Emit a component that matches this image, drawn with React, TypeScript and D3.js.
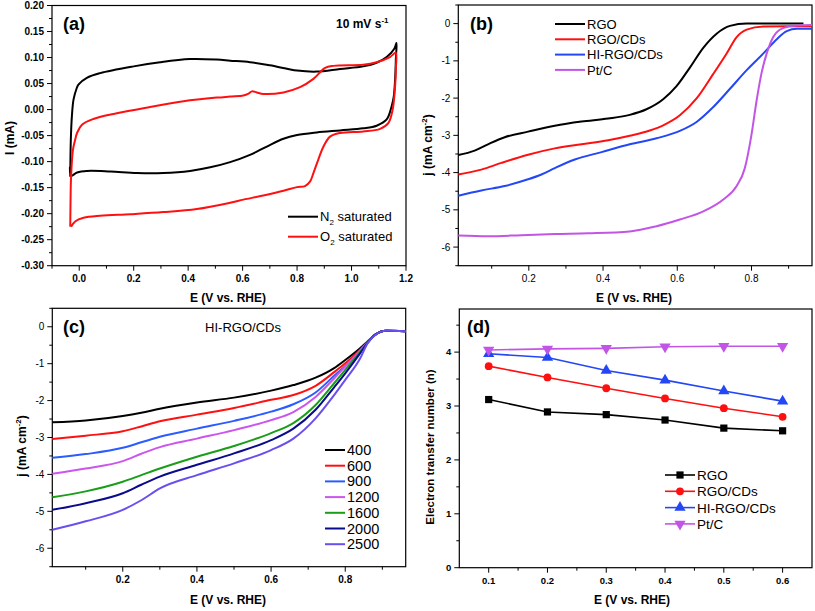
import React from 'react';
import * as d3 from 'd3';

const FONT = 'Arial, "Liberation Sans", Helvetica, sans-serif';

// ---------- Panel (a): CV in N2 / O2 ----------
const n2Potential = [-0.033, -0.031, -0.027, -0.021, -0.01, -0.003, 0.028, 0.077, 0.2, 0.297, 0.407, 0.505, 0.554, 0.627, 0.7, 0.8, 0.872, 0.958, 1.043, 1.092, 1.129, 1.157, 1.165,
  1.163, 1.16, 1.155, 1.147, 1.129, 1.092, 1.043, 0.958, 0.872, 0.8, 0.75, 0.689, 0.627, 0.554, 0.481, 0.407, 0.309, 0.212, 0.114, 0.028, -0.008, -0.03, -0.034];
const n2Current = [-0.129, -0.06, -0.013, 0.019, 0.04, 0.048, 0.061, 0.07, 0.083, 0.091, 0.097, 0.096, 0.094, 0.091, 0.085, 0.075, 0.073, 0.078, 0.083, 0.09, 0.101, 0.117, 0.128,
  0.1, 0.058, 0.025, 0.006, -0.019, -0.031, -0.036, -0.04, -0.044, -0.049, -0.056, -0.071, -0.087, -0.101, -0.111, -0.118, -0.122, -0.122, -0.119, -0.118, -0.121, -0.127, -0.11];
const o2Potential = [-0.033, -0.032, -0.03, -0.023, -0.015, -0.008, 0.01, 0.052, 0.138, 0.26, 0.383, 0.505, 0.554, 0.603, 0.62, 0.634, 0.652, 0.676, 0.75, 0.811, 0.86, 0.903, 0.933, 1.043, 1.092, 1.141, 1.162,
  1.163, 1.16, 1.151, 1.135, 1.105, 1.043, 0.958, 0.921, 0.897, 0.878, 0.86, 0.848, 0.829, 0.8, 0.75, 0.676, 0.603, 0.554, 0.432, 0.309, 0.187, 0.077, 0.016, -0.015, -0.03];
const o2Current = [-0.225, -0.18, -0.129, -0.077, -0.058, -0.045, -0.029, -0.018, -0.007, 0.005, 0.016, 0.023, 0.025, 0.027, 0.03, 0.035, 0.033, 0.03, 0.033, 0.043, 0.059, 0.08, 0.084, 0.086, 0.091, 0.101, 0.109,
  0.08, 0.045, 0.0, -0.026, -0.037, -0.042, -0.045, -0.052, -0.071, -0.096, -0.122, -0.138, -0.147, -0.149, -0.156, -0.165, -0.173, -0.179, -0.191, -0.197, -0.201, -0.204, -0.208, -0.215, -0.225];

// ---------- Panel (b): LSV of catalysts ----------
const rgoV = [0.01, 0.054, 0.09, 0.135, 0.198, 0.27, 0.342, 0.414, 0.472, 0.517, 0.562, 0.598, 0.634, 0.67, 0.706, 0.742, 0.787, 0.85, 0.94];
const rgoJ = [-3.53, -3.41, -3.24, -3.05, -2.9, -2.74, -2.63, -2.55, -2.45, -2.3, -2.03, -1.68, -1.18, -0.65, -0.27, -0.06, 0, 0, 0];
const rgoCdV = [0.01, 0.072, 0.126, 0.198, 0.27, 0.342, 0.414, 0.472, 0.526, 0.562, 0.607, 0.652, 0.697, 0.733, 0.76, 0.787, 0.832, 0.9, 0.963];
const rgoCdJ = [-4.05, -3.92, -3.74, -3.52, -3.35, -3.24, -3.13, -3.01, -2.87, -2.73, -2.46, -2.01, -1.35, -0.8, -0.36, -0.16, -0.08, -0.07, -0.07];
const hiV = [0.01, 0.072, 0.135, 0.198, 0.234, 0.27, 0.324, 0.396, 0.472, 0.544, 0.607, 0.652, 0.697, 0.742, 0.787, 0.832, 0.868, 0.895, 0.922, 0.963];
const hiJ = [-4.62, -4.48, -4.36, -4.18, -4.05, -3.88, -3.65, -3.45, -3.24, -3.08, -2.88, -2.64, -2.24, -1.75, -1.25, -0.8, -0.42, -0.2, -0.14, -0.14];
const ptV = [0.01, 0.09, 0.18, 0.27, 0.36, 0.472, 0.544, 0.607, 0.67, 0.724, 0.76, 0.782, 0.8, 0.814, 0.827, 0.841, 0.859, 0.885, 0.922, 0.963];
const ptJ = [-5.69, -5.71, -5.68, -5.65, -5.63, -5.58, -5.44, -5.26, -5.04, -4.72, -4.36, -3.88, -2.98, -2.05, -1.33, -0.8, -0.35, -0.12, -0.05, -0.04];

// ---------- Panel (c): HI-RGO/CDs at rotation rates ----------
const rpmPotential = [0.01, 0.1, 0.2, 0.25, 0.3, 0.4, 0.5, 0.6, 0.66, 0.72, 0.77, 0.8, 0.84, 0.86, 0.88, 0.91, 0.963];
const rpmLabels = ['400', '600', '900', '1200', '1600', '2000', '2500'];
const j400 = [-2.59, -2.54, -2.42, -2.33, -2.22, -2.05, -1.92, -1.73, -1.58, -1.38, -1.12, -0.9, -0.58, -0.4, -0.22, -0.11, -0.12];
const j600 = [-3.04, -2.95, -2.83, -2.7, -2.56, -2.38, -2.2, -1.98, -1.85, -1.6, -1.23, -0.99, -0.62, -0.42, -0.22, -0.11, -0.12];
const j900 = [-3.55, -3.45, -3.28, -3.13, -2.98, -2.76, -2.55, -2.3, -2.1, -1.78, -1.33, -1.06, -0.64, -0.42, -0.22, -0.11, -0.12];
const j1200 = [-3.98, -3.84, -3.64, -3.44, -3.26, -3.03, -2.8, -2.53, -2.31, -1.9, -1.4, -1.08, -0.65, -0.42, -0.22, -0.11, -0.12];
const j1600 = [-4.62, -4.46, -4.2, -4.02, -3.84, -3.52, -3.23, -2.88, -2.61, -2.12, -1.53, -1.17, -0.68, -0.43, -0.22, -0.11, -0.12];
const j2000 = [-4.96, -4.78, -4.51, -4.28, -4.06, -3.74, -3.43, -3.07, -2.76, -2.25, -1.64, -1.26, -0.72, -0.44, -0.22, -0.11, -0.12];
const j2500 = [-5.5, -5.27, -4.96, -4.7, -4.38, -4.02, -3.7, -3.34, -3.03, -2.48, -1.85, -1.44, -0.86, -0.45, -0.23, -0.11, -0.12];
const rpmColors = ['#000000', '#ff1010', '#2b5cff', '#cc55ee', '#1a9e1a', '#0a0a8c', '#6a4ff0'];

// ---------- Panel (d): electron transfer number ----------
const nPotential = [0.1, 0.2, 0.3, 0.4, 0.5, 0.6];
const nRGO = [3.12, 2.89, 2.84, 2.74, 2.59, 2.54];
const nRGOCD = [3.74, 3.53, 3.33, 3.14, 2.96, 2.8];
const nHI = [3.97, 3.9, 3.66, 3.48, 3.28, 3.09];
const nPt = [4.04, 4.06, 4.07, 4.1, 4.11, 4.11];

const catalystNames = ['RGO', 'RGO/CDs', 'HI-RGO/CDs', 'Pt/C'];
const catalystColors = ['#000000', '#ff1010', '#2447f5', '#c255e6'];

type Rect = { l: number; r: number; t: number; b: number };
const A: Rect = { l: 52, r: 406, t: 5.5, b: 265.7 };
const B: Rect = { l: 458.3, r: 812, t: 5, b: 265.7 };
const C: Rect = { l: 52.3, r: 405.7, t: 308.3, b: 566.7 };
const D: Rect = { l: 459.3, r: 812, t: 309, b: 567.7 };

const range = (a: number, b: number, s: number) => {
  const out: number[] = [];
  for (let i = 0; a + i * s <= b + 1e-9; i++) out.push(+(a + i * s).toFixed(4));
  return out;
};

function Axes({ rect, x, y, xMajor, xMinor, yMajor, yMinor, xFmt, yFmt, xBold, yBold, tickSize }: any) {
  const fs = tickSize || 10;
  return (
    <g>
      {xMajor.map((v: number) => (
        <g key={'xm' + v}>
          <line x1={x(v)} x2={x(v)} y1={rect.b} y2={rect.b + 5} stroke="#000" strokeWidth={1} />
          <text x={x(v)} y={rect.b + 16} textAnchor="middle" fontSize={fs} fontWeight={xBold ? 'bold' : 'normal'} fontFamily={FONT}>{xFmt(v)}</text>
        </g>
      ))}
      {xMinor.map((v: number) => (
        <line key={'xn' + v} x1={x(v)} x2={x(v)} y1={rect.b} y2={rect.b + 3} stroke="#000" strokeWidth={1} />
      ))}
      {yMajor.map((v: number) => (
        <g key={'ym' + v}>
          <line x1={rect.l - 5} x2={rect.l} y1={y(v)} y2={y(v)} stroke="#000" strokeWidth={1} />
          <text x={rect.l - 8} y={y(v)} dy="0.35em" textAnchor="end" fontSize={fs} fontWeight={yBold ? 'bold' : 'normal'} fontFamily={FONT}>{yFmt(v)}</text>
        </g>
      ))}
      {yMinor.map((v: number) => (
        <line key={'yn' + v} x1={rect.l - 3} x2={rect.l} y1={y(v)} y2={y(v)} stroke="#000" strokeWidth={1} />
      ))}
      <rect x={rect.l} y={rect.t} width={rect.r - rect.l} height={rect.b - rect.t} fill="none" stroke="#000" strokeWidth={1.2} />
    </g>
  );
}

const zip = (xs: number[], ys: number[]) => xs.map((v, i) => [v, ys[i]] as [number, number]);

export default function App() {
  const xa = d3.scaleLinear().domain([-0.1, 1.2]).range([A.l, A.r]);
  const ya = d3.scaleLinear().domain([-0.3, 0.2]).range([A.b, A.t]);
  const xb = d3.scaleLinear().domain([0.01, 0.963]).range([B.l, B.r]);
  const yb = d3.scaleLinear().domain([-6.5, 0.5]).range([B.b, B.t]);
  const xc = d3.scaleLinear().domain([0.01, 0.963]).range([C.l, C.r]);
  const yc = d3.scaleLinear().domain([-6.5, 0.5]).range([C.b, C.t]);
  const xd = d3.scaleLinear().domain([0.05, 0.65]).range([D.l, D.r]);
  const yd = d3.scaleLinear().domain([0, 4.8]).range([D.b, D.t]);

  const lineA = d3.line<[number, number]>().x(d => xa(d[0])).y(d => ya(d[1])).curve(d3.curveCatmullRom.alpha(0.5));
  const lineB = d3.line<[number, number]>().x(d => xb(d[0])).y(d => yb(d[1])).curve(d3.curveMonotoneX);
  const lineC = d3.line<[number, number]>().x(d => xc(d[0])).y(d => yc(d[1])).curve(d3.curveMonotoneX);
  const lineD = d3.line<[number, number]>().x(d => xd(d[0])).y(d => yd(d[1]));

  const bSeries = [zip(rgoV, rgoJ), zip(rgoCdV, rgoCdJ), zip(hiV, hiJ), zip(ptV, ptJ)];
  const cSeries = [j400, j600, j900, j1200, j1600, j2000, j2500].map(js => zip(rpmPotential, js));
  const dSeries = [nRGO, nRGOCD, nHI, nPt].map(ns => zip(nPotential, ns));

  const marker = (k: number, cx: number, cy: number, color: string, key: string) => {
    if (k === 0) return <rect key={key} x={cx - 3.6} y={cy - 3.6} width={7.2} height={7.2} fill={color} />;
    if (k === 1) return <circle key={key} cx={cx} cy={cy} r={3.9} fill={color} />;
    const p = d3.symbol().type(d3.symbolTriangle).size(55)() as string;
    return <path key={key} d={p} transform={`translate(${cx},${cy}) rotate(${k === 3 ? 180 : 0})`} fill={color} />;
  };

  const xFmt1 = (v: number) => v.toFixed(1);
  const intFmt = (v: number) => String(v);

  return (
    <div style={{ position: 'absolute', left: 0, top: 0, width: 815, height: 611, background: '#fff' }}>
      <svg width={815} height={611} viewBox="0 0 815 611" style={{ display: 'block' }}>
        <rect x={0} y={0} width={815} height={611} fill="#fff" />

        {/* ---------- (a) ---------- */}
        <Axes rect={A} x={xa} y={ya}
          xMajor={range(0, 1.2, 0.2)} xMinor={range(-0.1, 1.1, 0.2)}
          yMajor={range(-0.3, 0.2, 0.05)} yMinor={range(-0.275, 0.175, 0.05)}
          xFmt={xFmt1} yFmt={(v: number) => v.toFixed(2)} xBold yBold />
        <path d={lineA(zip(n2Potential, n2Current)) || ''} fill="none" stroke="#000" strokeWidth={2} />
        <path d={lineA(zip(o2Potential, o2Current)) || ''} fill="none" stroke="#ff1010" strokeWidth={2} />
        <text x={63} y={30} fontSize={18} fontWeight="bold" fontFamily={FONT}>(a)</text>
        <text x={336} y={28} fontSize={12} fontWeight="bold" fontFamily={FONT}>10 mV s<tspan dy="-5" fontSize={8}>-1</tspan></text>
        <line x1={288} x2={318} y1={216.7} y2={216.7} stroke="#000" strokeWidth={2} />
        <text x={320} y={221.2} fontSize={13} fontFamily={FONT}>N<tspan dy="4" fontSize={8}>2</tspan><tspan dy="-4"> saturated</tspan></text>
        <line x1={288} x2={318} y1={236.7} y2={236.7} stroke="#ff1010" strokeWidth={2} />
        <text x={320} y={241.2} fontSize={13} fontFamily={FONT}>O<tspan dy="4" fontSize={8}>2</tspan><tspan dy="-4"> saturated</tspan></text>
        <text x={228} y={302} textAnchor="middle" fontSize={12} fontWeight="bold" fontFamily={FONT}>E (V vs. RHE)</text>
        <text transform="translate(14,138) rotate(-90)" textAnchor="middle" fontSize={12} fontWeight="bold" fontFamily={FONT}>I (mA)</text>

        {/* ---------- (b) ---------- */}
        <Axes rect={B} x={xb} y={yb}
          xMajor={[0.2, 0.4, 0.6, 0.8]} xMinor={[0.1, 0.3, 0.5, 0.7, 0.9]}
          yMajor={range(-6, 0, 1)} yMinor={range(-6.5, 0.5, 1)}
          xFmt={xFmt1} yFmt={intFmt} />
        {bSeries.map((s, i) => (
          <path key={'b' + i} d={lineB(s) || ''} fill="none" stroke={catalystColors[i]} strokeWidth={2} />
        ))}
        <text x={470} y={30} fontSize={18} fontWeight="bold" fontFamily={FONT}>(b)</text>
        {catalystNames.map((n, i) => (
          <g key={'lb' + i}>
            <line x1={555} x2={585} y1={24 + i * 15.3} y2={24 + i * 15.3} stroke={catalystColors[i]} strokeWidth={2} />
            <text x={587} y={24 + i * 15.3 + 4.7} fontSize={13} fontFamily={FONT}>{n}</text>
          </g>
        ))}
        <text x={634} y={302} textAnchor="middle" fontSize={12} fontWeight="bold" fontFamily={FONT}>E (V vs. RHE)</text>
        <text transform="translate(432,145) rotate(-90)" textAnchor="middle" fontSize={12} fontWeight="bold" fontFamily={FONT}>j (mA cm<tspan dy="-5" fontSize={8}>-2</tspan><tspan dy="5">)</tspan></text>

        {/* ---------- (c) ---------- */}
        <Axes rect={C} x={xc} y={yc}
          xMajor={[0.2, 0.4, 0.6, 0.8]} xMinor={[0.1, 0.3, 0.5, 0.7, 0.9]}
          yMajor={range(-6, 0, 1)} yMinor={range(-6.5, 0.5, 1)}
          xFmt={xFmt1} yFmt={intFmt} xBold />
        {cSeries.map((s, i) => (
          <path key={'c' + i} d={lineC(s) || ''} fill="none" stroke={rpmColors[i]} strokeWidth={2} />
        ))}
        <text x={63} y={333} fontSize={18} fontWeight="bold" fontFamily={FONT}>(c)</text>
        <text x={243} y={332} textAnchor="middle" fontSize={13} fontFamily={FONT}>HI-RGO/CDs</text>
        {rpmLabels.map((n, i) => (
          <g key={'lc' + i}>
            <line x1={325} x2={345} y1={450 + i * 15.7} y2={450 + i * 15.7} stroke={rpmColors[i]} strokeWidth={2} />
            <text x={347} y={450 + i * 15.7 + 5} fontSize={14.5} fontFamily={FONT}>{n}</text>
          </g>
        ))}
        <text x={228} y={604} textAnchor="middle" fontSize={12} fontWeight="bold" fontFamily={FONT}>E (V vs. RHE)</text>
        <text transform="translate(26,446) rotate(-90)" textAnchor="middle" fontSize={12} fontWeight="bold" fontFamily={FONT}>j (mA cm<tspan dy="-5" fontSize={8}>-2</tspan><tspan dy="5">)</tspan></text>

        {/* ---------- (d) ---------- */}
        <Axes rect={D} x={xd} y={yd}
          xMajor={nPotential} xMinor={[0.15, 0.25, 0.35, 0.45, 0.55]}
          yMajor={range(0, 4, 1)} yMinor={range(0.5, 4.5, 1)}
          xFmt={xFmt1} yFmt={intFmt} xBold yBold tickSize={9.5} />
        {dSeries.map((s, i) => (
          <g key={'d' + i}>
            <path d={lineD(s) || ''} fill="none" stroke={catalystColors[i]} strokeWidth={1.6} />
            {s.map((p, j) => marker(i, xd(p[0]), yd(p[1]), catalystColors[i], `m${i}-${j}`))}
          </g>
        ))}
        <text x={467} y={333} fontSize={18} fontWeight="bold" fontFamily={FONT}>(d)</text>
        {catalystNames.map((n, i) => (
          <g key={'ld' + i}>
            <line x1={665} x2={695} y1={475 + i * 16.3} y2={475 + i * 16.3} stroke={catalystColors[i]} strokeWidth={1.6} />
            {marker(i, 680, 475 + i * 16.3, catalystColors[i], 'lm' + i)}
            <text x={697} y={475 + i * 16.3 + 5} fontSize={13.5} fontFamily={FONT}>{n}</text>
          </g>
        ))}
        <text x={632} y={604} textAnchor="middle" fontSize={12} fontWeight="bold" fontFamily={FONT}>E (V vs. RHE)</text>
        <text transform="translate(434,447) rotate(-90)" textAnchor="middle" fontSize={11.5} fontWeight="bold" fontFamily={FONT}>Electron transfer number (n)</text>
      </svg>
    </div>
  );
}
